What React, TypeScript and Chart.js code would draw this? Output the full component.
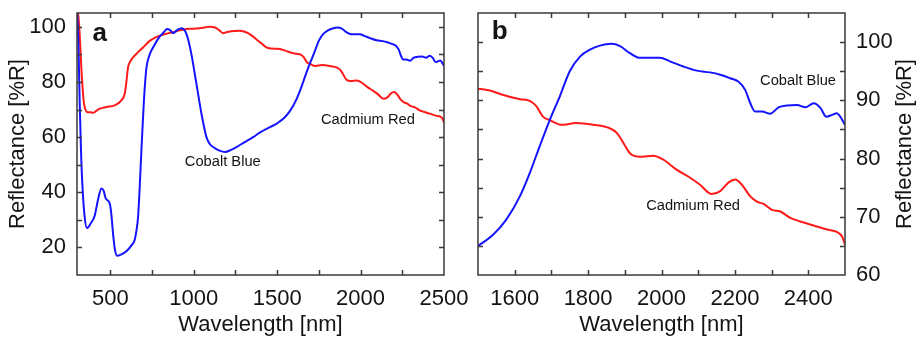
import React, { useEffect, useRef } from "react";
import { Chart, registerables } from "chart.js";
Chart.register(...registerables);

// ---------- data ----------
const BLUE_WL = [300, 308, 316, 324, 332, 346, 360, 380, 406, 425, 446, 460, 472, 496, 506, 516, 528, 540, 560, 596, 630, 646, 656, 666, 676, 686, 700, 716, 736, 756, 790, 820, 840, 858, 876, 900, 926, 945, 956, 970, 986, 1016, 1046, 1076, 1096, 1116, 1150, 1190, 1220, 1256, 1300, 1356, 1400, 1436, 1480, 1500, 1541, 1577, 1614, 1641, 1668, 1696, 1723, 1750, 1778, 1805, 1832, 1864, 1887, 1914, 1941, 1969, 1996, 2023, 2060, 2096, 2132, 2160, 2187, 2210, 2228, 2242, 2255, 2274, 2296, 2319, 2342, 2369, 2392, 2415, 2433, 2449, 2465, 2478, 2487, 2500];
const BLUE_R = [106, 95, 73, 55, 43, 31, 27, 28.5, 31.5, 37, 41.4, 40.5, 37.8, 36, 32, 25, 19, 17, 17.3, 18.6, 21, 22.8, 26, 31, 42, 55, 72, 85, 90, 92.5, 96, 98, 99.2, 98.8, 97.7, 98.8, 99.5, 98.8, 97.4, 94.5, 90, 79.3, 68.5, 60, 57.5, 56.4, 55.2, 54.6, 55.3, 56.4, 58, 60, 61.8, 63, 64.3, 65.0, 66.9, 69.5, 73.5, 77.5, 82.1, 86.7, 90.7, 95.0, 97.5, 98.7, 99.4, 99.7, 99.3, 98.1, 97.3, 97.3, 97.3, 96.7, 95.8, 95.1, 94.8, 94.4, 93.8, 93.2, 91.8, 89.5, 88.1, 88.1, 87.7, 88.8, 89.1, 89.2, 88.8, 89.5, 88.7, 87.2, 87.5, 87.8, 87.2, 85.8];

const RED_WL = [300, 308, 316, 326, 332, 340, 346, 360, 380, 396, 415, 436, 476, 526, 566, 586, 596, 606, 620, 636, 666, 696, 736, 766, 796, 836, 876, 916, 956, 1000, 1035, 1070, 1095, 1115, 1135, 1155, 1175, 1195, 1215, 1245, 1275, 1300, 1325, 1350, 1375, 1405, 1435, 1465, 1500, 1532, 1560, 1586, 1615, 1641, 1659, 1677, 1696, 1728, 1768, 1814, 1859, 1878, 1896, 1914, 1941, 1978, 2005, 2041, 2078, 2105, 2137, 2160, 2183, 2201, 2219, 2242, 2260, 2278, 2301, 2324, 2351, 2378, 2415, 2451, 2478, 2492, 2500];
const RED_R = [106, 104, 97.4, 85, 79.3, 73, 70.9, 69.1, 69.0, 68.8, 69.5, 70.3, 70.9, 71.5, 73.3, 75.7, 80, 85.3, 87.5, 88.9, 90.8, 92.5, 94.9, 96, 96.8, 97.5, 98, 98.7, 99.2, 99.3, 99.5, 99.8, 100, 99.9, 99.5, 98.6, 97.7, 98.0, 98.3, 98.5, 98.6, 98.3, 97.7, 96.7, 95.5, 94, 92.5, 92.1, 92.0, 91.7, 91.1, 90.6, 90.2, 89.9, 89.0, 87.2, 86.6, 85.8, 86.1, 85.8, 85.2, 84.4, 82.7, 80.9, 80.3, 80.5, 79.8, 78.1, 76.7, 75.5, 73.9, 74.4, 75.9, 76.4, 75.5, 73.5, 72.6, 72.2, 71.2, 70.9, 69.8, 69.2, 68.5, 67.8, 67.4, 66.6, 65.2];

const SERIES_NAMES = ["Cobalt Blue", "Cadmium Red"];

const X_TICKS_A = [500, 1000, 1500, 2000, 2500];
const X_MARKS_A = [500, 750, 1000, 1250, 1500, 1750, 2000, 2250];
const Y_TICKS_A = [20, 40, 60, 80, 100];
const Y_MARKS_A = [20, 30, 40, 50, 60, 70, 80, 90, 100];

const X_TICKS_B = [1600, 1800, 2000, 2200, 2400];
const X_MARKS_B = [1600, 1700, 1800, 1900, 2000, 2100, 2200, 2300, 2400];
const Y_TICKS_B = [60, 70, 80, 90, 100];
const Y_MARKS_B = [65, 70, 75, 80, 85, 90, 95, 100];

const X_TITLE = "Wavelength [nm]";
const Y_TITLE = "Reflectance [%R]";

const FONT = "'Liberation Sans', Arial, Helvetica, sans-serif";
const BLUE = "#1414ff";
const RED = "#ff1a1a";
const TEXT = "#141414";

const toPts = (xs: number[], ys: number[]) => xs.map((x, i) => ({ x, y: ys[i] }));

const framePlugin = {
  id: "frame",
  afterDatasetsDraw(chart: any, _args: any, opts: any) {
    const { ctx, chartArea: a, scales } = chart;
    const xs = scales.x;
    const ys = scales.y;
    ctx.save();
    ctx.strokeStyle = "#3a3a3a";
    ctx.lineWidth = 1.5;
    ctx.strokeRect(a.left, a.top, a.right - a.left, a.bottom - a.top);
    const L = 5;
    ctx.beginPath();
    for (const v of opts.xMarks) {
      const p = Math.round(xs.getPixelForValue(v)) + 0.5;
      ctx.moveTo(p, a.bottom);
      ctx.lineTo(p, a.bottom - L);
      ctx.moveTo(p, a.top);
      ctx.lineTo(p, a.top + L);
    }
    for (const v of opts.yMarks) {
      const p = Math.round(ys.getPixelForValue(v)) + 0.5;
      ctx.moveTo(a.left, p);
      ctx.lineTo(a.left + L, p);
      ctx.moveTo(a.right, p);
      ctx.lineTo(a.right - L, p);
    }
    ctx.stroke();
    ctx.fillStyle = TEXT;
    ctx.textAlign = "center";
    ctx.textBaseline = "middle";
    for (const lb of opts.labels) {
      ctx.font = lb.font;
      ctx.fillText(lb.text, xs.getPixelForValue(lb.x), ys.getPixelForValue(lb.y));
    }
    if (opts.rightTitle) {
      ctx.font = `22px ${FONT}`;
      ctx.translate(opts.rightTitleX, (a.top + a.bottom) / 2);
      ctx.rotate(-Math.PI / 2);
      ctx.fillText(opts.rightTitle, 0, 0);
    }
    ctx.restore();
  },
};

function makeConfig(panel: "a" | "b"): any {
  const isA = panel === "a";
  const xTicks = isA ? X_TICKS_A : X_TICKS_B;
  const yTicks = isA ? Y_TICKS_A : Y_TICKS_B;
  const tickFont = { family: FONT, size: 22 };
  const noteFont = `14.7px ${FONT}`;
  return {
    type: "line",
    data: {
      datasets: [
        { label: SERIES_NAMES[0], data: toPts(BLUE_WL, BLUE_R), borderColor: BLUE, borderWidth: 2, pointRadius: 0, cubicInterpolationMode: "monotone" },
        { label: SERIES_NAMES[1], data: toPts(RED_WL, RED_R), borderColor: RED, borderWidth: 2, pointRadius: 0, cubicInterpolationMode: "monotone" },
      ],
    },
    options: {
      animation: false,
      responsive: false,
      events: [],
      layout: isA ? { padding: { left: 0, top: 13, right: 36, bottom: 0 } } : { padding: { left: 18, top: 13, right: 0, bottom: 0 } },
      plugins: {
        legend: { display: false },
        tooltip: { enabled: false },
        frame: {
          xMarks: isA ? X_MARKS_A : X_MARKS_B,
          yMarks: isA ? Y_MARKS_A : Y_MARKS_B,
          labels: isA
            ? [
                { text: "a", x: 437, y: 97.5, font: `bold 26px ${FONT}` },
                { text: SERIES_NAMES[0], x: 1174, y: 50.9, font: noteFont },
                { text: SERIES_NAMES[1], x: 2044, y: 66.1, font: noteFont },
              ]
            : [
                { text: "b", x: 1559, y: 101.7, font: `bold 26px ${FONT}` },
                { text: SERIES_NAMES[0], x: 2372, y: 93.4, font: noteFont },
                { text: SERIES_NAMES[1], x: 2086, y: 71.9, font: noteFont },
              ],
          rightTitle: isA ? null : Y_TITLE,
          rightTitleX: 445,
        },
      },
      scales: {
        x: {
          type: "linear",
          min: isA ? 300 : 1500,
          max: 2500,
          grid: { display: false, drawTicks: false },
          border: { display: false },
          afterBuildTicks: (s: any) => { s.ticks = xTicks.map((v) => ({ value: v })); },
          afterFit: (s: any) => { s.height = 63; s.paddingLeft = 0; s.paddingRight = 0; },
          ticks: { font: tickFont, color: TEXT, padding: 11, maxRotation: 0, autoSkip: false, callback: (v: any) => String(v) },
          title: { display: true, text: X_TITLE, font: { family: FONT, size: 22 }, color: TEXT, padding: { top: 0, bottom: 0 } },
        },
        y: {
          type: "linear",
          position: isA ? "left" : "right",
          min: isA ? 10 : 60,
          max: 105,
          grid: { display: false, drawTicks: false },
          border: { display: false },
          afterBuildTicks: (s: any) => { s.ticks = yTicks.map((v) => ({ value: v })); },
          afterFit: (s: any) => { s.width = isA ? 77 : 73; s.paddingTop = 0; s.paddingBottom = 0; },
          ticks: { font: tickFont, color: TEXT, padding: 11, autoSkip: false, callback: (v: any) => String(v) },
          title: isA
            ? { display: true, text: Y_TITLE, font: { family: FONT, size: 22 }, color: TEXT, padding: { top: 5, bottom: 0 } }
            : { display: false },
        },
      },
    },
    plugins: [framePlugin],
  };
}

function Panel({ panel, left, width }: { panel: "a" | "b"; left: number; width: number }) {
  const ref = useRef<HTMLCanvasElement>(null);
  useEffect(() => {
    if (!ref.current) return;
    const chart = new Chart(ref.current, makeConfig(panel));
    return () => chart.destroy();
  }, [panel]);
  return (
    <canvas
      ref={ref}
      width={width}
      height={338}
      style={{ position: "absolute", left, top: 0, width, height: 338 }}
    />
  );
}

export default function App() {
  return (
    <div style={{ position: "fixed", left: 0, top: 0, width: 918, height: 338, background: "#fff", overflow: "hidden" }}>
      <Panel panel="a" left={0} width={480} />
      <Panel panel="b" left={460} width={458} />
    </div>
  );
}
